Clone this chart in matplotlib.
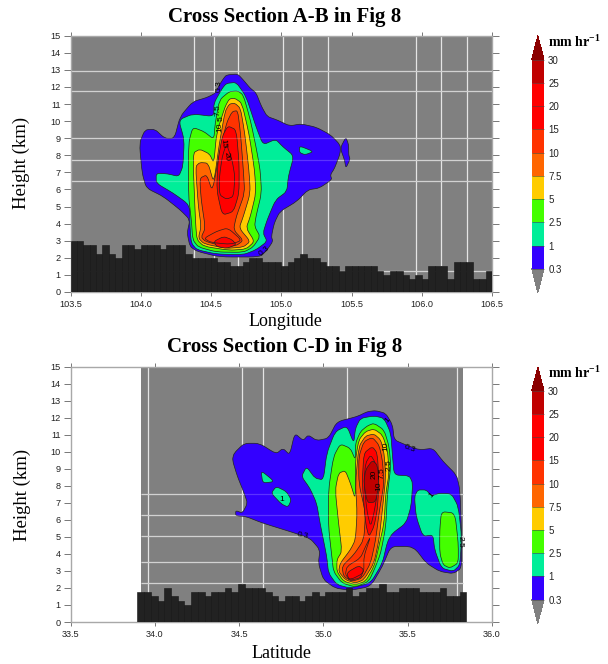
import numpy as np
import matplotlib
matplotlib.use('Agg')
import matplotlib.pyplot as plt
from matplotlib.colors import ListedColormap, BoundaryNorm
from matplotlib.cm import ScalarMappable
from matplotlib.path import Path
from matplotlib.patches import PathPatch

plt.rcParams['font.family'] = 'Liberation Sans'
plt.rcParams['mathtext.fontset'] = 'custom'
plt.rcParams['mathtext.bf'] = 'Liberation Serif:bold'
plt.rcParams['mathtext.rm'] = 'Liberation Serif:bold'

# colour levels
levels = [0.3, 1, 2.5, 5, 7.5, 10, 15, 20, 25, 30]
level_labels = ['0.3', '1', '2.5', '5', '7.5', '10', '15', '20', '25', '30']
level_colors = ['#3300FF', '#00EE99', '#44FF00', '#FFCC00', '#FF6600', '#FF3300', '#FF0000', '#FF0000', '#C00000']

# terrain heights (km)
ab_terrain = [3, 3, 2.75, 2.75, 2.25, 2.75, 2.25, 2, 2.75, 2.75, 2.5, 2.75, 2.75, 2.75, 2.5, 2.75, 2.75, 2.75,
              2.25, 2, 2, 2, 2, 1.75, 1.75, 1.5, 1.5, 1.75, 2, 2, 1.75, 1.75, 1.75, 1.5, 1.75, 2, 2.25, 2, 2,
              1.75, 1.5, 1.5, 1.25, 1.5, 1.5, 1.5, 1.5, 1.5, 1.25, 1, 1.25, 1.25, 1, 0.75, 1, 0.75, 1.5, 1.5,
              1.5, 0.75, 1.75, 1.75, 1.75, 0.75, 0.75, 1.25]
cd_terrain = [1.75, 1.75, 1.5, 1.25, 2, 1.5, 1.25, 1, 1.75, 1.75, 1.5, 1.75, 1.75, 2, 1.75, 2.25, 2, 2, 2,
              1.75, 1.5, 1.25, 1.5, 1.5, 1.25, 1.5, 1.75, 1.5, 1.75, 1.75, 1.75, 2, 1.5, 1.75, 2, 2, 2.25,
              1.75, 1.75, 2, 2, 2, 1.75, 1.75, 1.75, 2, 1.5, 1.5, 1.75]

# rain contours, cross section A-B: (lon, height)
ab_03 = [(104.61,12.70),(104.69,12.76),(104.73,12.41),(104.78,11.92),(104.82,11.67),(104.86,10.85),(104.90,10.27),
         (104.97,10.07),(105.06,9.72),(105.14,9.84),(105.25,9.64),(105.35,9.2),(105.42,8.61),(105.42,8.12),
         (105.38,7.25),(105.35,6.86),(105.36,6.57),(105.27,6.08),(105.19,5.98),(105.11,5.30),(104.99,4.71),
         (104.95,4.03),(104.93,3.25),(104.94,2.96),(104.90,2.47),(104.85,2.05),(104.56,2.05),(104.40,2.38),
         (104.35,2.67),(104.33,3.45),(104.35,4.23),(104.28,4.81),(104.16,5.59),(104.04,6.08),(104.01,6.95),
         (103.99,8.71),(104.03,9.49),(104.10,9.53),(104.17,9.0),(104.24,9.0),(104.28,10.27),(104.37,11.14),
         (104.47,11.38),(104.53,11.63),(104.56,12.12),(104.59,12.51)]
ab_03_b = [(105.46,9.06),(105.48,8.61),(105.48,8.03),(105.49,7.77),(105.46,7.25),(105.45,7.73),(105.42,8.42)]
ab_1 = [(104.68,12.27),(104.75,11.44),(104.82,9.68),(104.87,8.61),(104.96,8.94),(105.01,8.51),(105.09,7.97),
        (105.05,6.76),(105.04,5.88),(104.96,5.40),(104.90,4.23),(104.87,3.45),(104.90,2.96),(104.82,2.47),
        (104.73,2.18),(104.54,2.22),(104.40,2.47),(104.36,2.86),(104.35,3.84),(104.35,4.81),(104.33,5.2),
        (104.23,5.79),(104.11,6.37),(104.11,6.95),(104.19,6.92),(104.27,6.76),(104.30,7.34),(104.31,8.90),
        (104.27,10.07),(104.37,10.42),(104.52,10.27),(104.52,11.05),(104.58,11.92),(104.61,12.21)]
ab_1_b = [(105.13,8.55),(105.23,8.22),(105.17,8.03),(105.13,8.16)]
ab_25 = [(104.69,11.77),(104.73,11.53),(104.78,10.07),(104.82,8.51),(104.85,7.15),(104.86,5.79),(104.82,4.42),
         (104.81,3.84),(104.85,3.25),(104.80,2.63),(104.73,2.32),(104.54,2.34),(104.41,2.63),(104.37,3.06),
         (104.36,4.23),(104.34,5.59),(104.34,8.71),(104.37,9.64),(104.45,9.39),(104.52,8.94),(104.53,9.88),
         (104.56,11.24),(104.63,11.73)]
ab_5 = [(104.67,11.34),(104.72,11.05),(104.77,9.29),(104.81,7.15),(104.82,5.79),(104.78,4.42),(104.75,3.74),
        (104.81,2.96),(104.75,2.51),(104.63,2.44),(104.45,2.67),(104.40,3.06),(104.39,4.03),(104.37,8.12),
        (104.42,8.36),(104.49,8.08),(104.52,7.54),(104.54,9.29),(104.60,10.85),(104.63,11.30)]
ab_75 = [(104.67,11.05),(104.71,10.75),(104.74,9.29),(104.77,7.15),(104.78,5.79),(104.73,4.42),(104.70,3.74),
         (104.78,2.96),(104.73,2.63),(104.61,2.55),(104.45,2.82),(104.41,3.16),(104.43,3.84),(104.41,5.01),
         (104.39,7.34),(104.42,7.58),(104.48,7.54),(104.52,6.37),(104.56,8.71),(104.60,10.56),(104.63,11.0)]
ab_10 = [(104.69,10.62),(104.71,9.29),(104.73,7.15),(104.74,5.79),(104.68,4.42),(104.66,3.64),(104.73,3.02),
         (104.68,2.71),(104.59,2.67),(104.46,2.96),(104.43,3.21),(104.46,3.74),(104.43,5.40),(104.42,6.66),
         (104.47,6.86),(104.51,5.88),(104.56,8.12),(104.61,9.88),(104.65,10.56)]
ab_15 = [(104.62,9.72),(104.68,9.49),(104.70,7.54),(104.70,5.79),(104.66,4.70),(104.58,4.50),(104.54,5.98),
         (104.55,7.73),(104.58,9.10)]
ab_15_line = [(104.62,3.75),(104.72,3.02),(104.64,2.79),(104.50,2.90),(104.45,3.14),(104.54,3.55)]
ab_20 = [(104.61,8.67),(104.65,7.73),(104.67,6.76),(104.66,5.59),(104.61,5.43),(104.56,5.69),(104.56,6.76),(104.58,7.93)]
ab_20_b = [(104.59,3.25),(104.65,3.06),(104.68,2.77),(104.61,2.55),(104.54,2.67),(104.52,2.96)]

# rain contours, cross section C-D: (lat, height)
cd_03 = [(35.31,12.42),(35.37,12.26),(35.41,11.58),(35.42,10.70),(35.49,10.40),(35.57,10.11),(35.65,10.21),
         (35.71,9.43),(35.79,8.64),(35.81,7.76),(35.82,5.03),(35.82,3.17),(35.77,2.84),(35.69,2.97),(35.61,3.46),
         (35.55,4.24),(35.51,4.44),(35.40,4.44),(35.35,3.27),(35.28,2.09),(35.16,1.86),(35.07,1.99),(35.00,2.48),
         (34.97,3.46),(34.98,4.24),(34.92,4.93),(34.80,5.32),(34.64,5.81),(34.54,6.20),(34.48,6.24),(34.48,6.55),
         (34.52,6.40),(34.55,6.98),(34.53,7.57),(34.49,8.55),(34.46,9.52),(34.47,9.92),(34.53,10.50),(34.62,10.50),
         (34.72,9.88),(34.76,10.21),(34.80,9.82),(34.83,11.09),(34.88,10.66),(34.91,10.99),(34.96,10.66),
         (35.03,10.80),(35.08,11.77),(35.20,12.07),(35.26,12.36)]
cd_1 = [(35.30,12.11),(35.36,11.97),(35.40,11.09),(35.41,9.72),(35.42,8.64),(35.51,8.59),(35.53,8.16),(35.52,6.79),
        (35.49,5.81),(35.41,5.22),(35.38,4.73),(35.35,3.46),(35.28,2.29),(35.16,1.99),(35.08,2.19),(35.03,2.88),
        (35.02,3.85),(34.98,5.81),(34.96,6.98),(34.92,7.86),(34.87,8.55),(34.90,9.13),(34.95,8.45),(35.00,8.35),
        (35.02,9.92),(35.07,11.19),(35.14,11.52),(35.18,10.50),(35.19,11.38),(35.22,11.97)]
cd_1_b = [(35.56,7.76),(35.61,7.76),(35.64,7.41),(35.69,7.57),(35.76,7.53),(35.80,6.79),(35.82,5.03),(35.81,3.36),
          (35.77,2.97),(35.70,3.17),(35.66,4.24),(35.65,5.12),(35.59,5.03),(35.55,6.20),(35.54,7.37)]
cd_1_c = [(34.63,8.90),(34.71,8.25),(34.64,8.16)]
cd_1_d = [(34.72,7.96),(34.78,7.67),(34.81,7.18),(34.79,6.75),(34.75,6.94),(34.69,7.57)]
cd_25 = [(35.30,11.68),(35.36,11.28),(35.39,10.31),(35.40,9.13),(35.38,7.57),(35.37,5.61),(35.34,4.05),(35.31,3.27),
         (35.27,2.39),(35.19,2.05),(35.11,2.29),(35.06,2.97),(35.05,3.85),(35.03,5.61),(35.03,7.76),(35.06,9.72),
         (35.10,10.46),(35.16,10.21),(35.19,9.52),(35.19,10.50),(35.22,11.19),(35.26,11.52)]
cd_25_b = [(35.70,6.49),(35.78,6.40),(35.80,4.64),(35.80,3.46),(35.75,3.17),(35.71,3.36),(35.69,4.05),(35.69,5.42)]
cd_5 = [(35.30,11.34),(35.35,10.99),(35.38,10.11),(35.39,8.74),(35.37,7.57),(35.36,5.81),(35.32,4.05),(35.30,3.27),
        (35.25,2.39),(35.19,2.19),(35.12,2.39),(35.08,2.97),(35.08,3.66),(35.11,4.15),(35.09,5.81),(35.07,7.76),
        (35.09,8.74),(35.13,8.90),(35.16,8.16),(35.19,7.18),(35.19,9.52),(35.21,10.70),(35.25,11.19)]
cd_75 = [(35.30,11.05),(35.34,10.70),(35.36,9.92),(35.37,8.55),(35.35,6.59),(35.33,4.83),(35.30,3.46),(35.24,2.48),
         (35.19,2.29),(35.13,2.48),(35.09,2.97),(35.10,3.46),(35.16,4.24),(35.19,4.83),(35.20,6.40),(35.19,8.16),
         (35.21,10.31),(35.25,10.93)]
cd_10 = [(35.29,10.85),(35.33,10.40),(35.35,9.52),(35.36,8.16),(35.33,6.40),(35.31,4.83),(35.28,3.46),(35.23,2.58),
         (35.17,2.39),(35.12,2.68),(35.11,3.27),(35.18,3.95),(35.24,4.83),(35.25,6.40),(35.21,8.16),(35.21,9.72),(35.24,10.60)]
cd_15 = [(35.29,10.31),(35.32,9.92),(35.33,8.16),(35.32,6.59),(35.30,5.61),(35.27,5.00),(35.25,5.80),(35.23,8.16),(35.24,9.92)]
cd_15_line = [(35.28,5.03),(35.24,3.85),(35.24,2.88),(35.16,2.48),(35.13,2.78),(35.14,3.27),(35.22,3.76),(35.25,4.44)]
cd_20 = [(35.28,9.82),(35.31,9.33),(35.32,7.57),(35.30,6.40),(35.28,5.61),(35.26,6.40),(35.24,8.16),(35.25,9.33)]
cd_20_b = [(35.21,3.31),(35.24,3.07),(35.22,2.58),(35.15,2.44),(35.14,2.91)]
cd_25l = [(35.29,9.50),(35.32,9.23),(35.33,8.16),(35.31,7.05),(35.26,7.00),(35.24,8.16),(35.25,8.94)]

# white lines on the grey background
ab_vlines = [104.38, 104.52, 104.69, 105.01, 105.15, 105.33, 105.96, 106.14, 106.32]
ab_hlines = [12.95, 11.77, 9.0, 7.73, 6.49, 1.25]
cd_vlines = [33.96, 34.52, 34.64, 35.14, 35.79]
cd_hlines = [7.53, 6.28, 5.03, 3.52, 2.29]

# contour labels: text, x, height, rotation
ab_labels = [('0.3', 104.56, 12.07, 90), ('7.5', 104.55, 10.65, 90), ('5', 104.57, 10.15, 90),
             ('10', 104.56, 9.64, 90), ('15', 104.59, 8.70, -85), ('20', 104.61, 7.93, -85),
             ('0.3', 104.88, 2.38, 40)]
cd_labels = [('0.3', 35.51, 10.17, -20), ('0.3', 34.88, 5.07, -10), ('10', 35.37, 10.31, 90),
             ('2.5', 35.39, 9.23, 90), ('20', 35.30, 8.70, 90), ('7.5', 35.35, 8.75, 90),
             ('10', 35.33, 7.95, 90), ('2.5', 35.81, 4.69, -90), ('1', 34.75, 7.22, 0),
             ('1', 35.38, 11.85, 50), ('1', 35.64, 7.45, 50)]

W, H = 608.0, 664.0
cmap = ListedColormap(level_colors)
cmap.set_over('#8B0000')
cmap.set_under('#808080')
norm = BoundaryNorm(levels, cmap.N)


def box(left, top, right, bottom):
    return [left / W, 1 - bottom / H, (right - left) / W, (bottom - top) / H]


def round_path(pts, frac=0.3):
    # closed outline, only the corners get rounded so the shape stays on the read points
    pts = np.array(pts)
    prev = np.roll(pts, 1, axis=0)
    nxt = np.roll(pts, -1, axis=0)
    verts = []
    codes = []
    for i in range(len(pts)):
        a = pts[i] + frac * (prev[i] - pts[i])
        b = pts[i] + frac * (nxt[i] - pts[i])
        verts += [a, pts[i], b]
        codes += [Path.MOVETO if i == 0 else Path.LINETO, Path.CURVE3, Path.CURVE3]
    verts.append(verts[0])
    codes.append(Path.LINETO)
    return Path(verts, codes)


def draw_panel(ax, shapes, lines, terrain, bar_left, bar_right, xlim, xticks, vlines, hlines, labels, gx):
    ax.set_xlim(xlim)
    ax.set_ylim(0, 15)
    for v in vlines:
        ax.axvline(v, color='#E4E4E4', lw=0.9, zorder=1)
    ax.hlines(hlines, gx[0], gx[1], color='#C8C8C8', lw=0.9, zorder=1)
    for pts, level in shapes:
        ax.add_patch(PathPatch(round_path(pts), facecolor=cmap(norm(level)), edgecolor='#222222', lw=0.5, zorder=2))
    for pts in lines:
        ax.add_patch(PathPatch(round_path(pts), facecolor='none', edgecolor='#222222', lw=0.5, zorder=2))
    ax.hlines(hlines, gx[0], gx[1], color='white', lw=0.9, alpha=0.2, zorder=3)
    width = (bar_right - bar_left) / len(terrain)
    centers = bar_left + width * (np.arange(len(terrain)) + 0.5)
    ax.bar(centers, terrain, width=width, color='#222222', edgecolor='#151515', lw=0.4, zorder=4)
    for txt, x, y, rot in labels:
        ax.text(x, y, txt, rotation=rot, fontsize=6, color='black', ha='center', va='center',
                rotation_mode='anchor', zorder=5)
    ax.set_xticks(xticks)
    ax.set_xticklabels(['%.1f' % t for t in xticks])
    ax.set_yticks(range(0, 16))
    ax.tick_params(direction='out', length=3, width=0.7, color='#777777', labelsize=6.6, pad=2.5,
                   top=True, right=True, labelcolor='#222222')
    ax.tick_params(axis='y', length=5, pad=2)
    for s in ax.spines.values():
        s.set_color('#A8A8A8')
        s.set_linewidth(1.0)


def draw_bar(top, bottom):
    cax = fig.add_axes(box(531.7, top, 544, bottom))
    cb = fig.colorbar(ScalarMappable(norm=norm, cmap=cmap), cax=cax, extend='both', spacing='uniform',
                      extendfrac=0.114, ticks=levels, drawedges=True)
    cb.ax.set_yticklabels(level_labels)
    cb.ax.tick_params(length=0, labelsize=7, pad=3, labelcolor='#222222')
    cb.outline.set_linewidth(0)
    cb.dividers.set_color('#444444')
    cb.dividers.set_linewidth(0.4)


fig = plt.figure(figsize=(W / 100, H / 100), dpi=100)

# top panel
ax1 = fig.add_axes(box(70.5, 35.7, 492, 292))
ax1.set_facecolor('#808080')
ab_shapes = [(ab_03, 0.3), (ab_03_b, 0.3), (ab_1, 1), (ab_1_b, 1), (ab_25, 2.5), (ab_5, 5), (ab_75, 7.5),
             (ab_10, 10), (ab_15, 15), (ab_20, 20), (ab_20_b, 20)]
draw_panel(ax1, ab_shapes, [ab_15_line], ab_terrain, 103.5, 106.5, (103.5, 106.5), np.arange(103.5, 106.6, 0.5),
           ab_vlines, ab_hlines, ab_labels, (103.5, 106.5))

# bottom panel
ax2 = fig.add_axes(box(70.5, 366.7, 492, 622))
ax2.axvspan(33.917, 35.83, color='#808080', lw=0, zorder=0)
cd_shapes = [(cd_03, 0.3), (cd_1, 1), (cd_1_b, 1), (cd_1_c, 1), (cd_1_d, 1), (cd_25, 2.5), (cd_25_b, 2.5),
             (cd_5, 5), (cd_75, 7.5), (cd_10, 10), (cd_15, 15), (cd_20, 20), (cd_20_b, 20), (cd_25l, 25)]
draw_panel(ax2, cd_shapes, [cd_15_line], cd_terrain, 33.897, 35.848, (33.5, 36.0), np.arange(33.5, 36.1, 0.5),
           cd_vlines, cd_hlines, cd_labels, (33.917, 35.83))

draw_bar(35.7, 292.7)
draw_bar(367, 623.5)

# texts in figure pixels
serif = 'Liberation Serif'
fig.text(285 / W, 1 - 17 / H, 'Cross Section A-B in Fig 8', family=serif, weight='bold', fontsize=15,
         ha='center', va='center')
fig.text(285 / W, 1 - 347 / H, 'Cross Section C-D in Fig 8', family=serif, weight='bold', fontsize=15,
         ha='center', va='center')
fig.text(285 / W, 1 - 321 / H, 'Longitude', family=serif, fontsize=13, ha='center', va='center')
fig.text(282 / W, 1 - 653 / H, 'Latitude', family=serif, fontsize=13, ha='center', va='center')
fig.text(21 / W, 1 - 163 / H, 'Height (km)', family=serif, fontsize=13.5, rotation=90, ha='center', va='center')
fig.text(22 / W, 1 - 495 / H, 'Height (km)', family=serif, fontsize=13.5, rotation=90, ha='center', va='center')
for y in (42, 373):
    fig.text(548 / W, 1 - y / H, r'mm hr$^{\mathbf{-1}}$', family=serif, weight='bold', fontsize=10,
             ha='left', va='center')

plt.savefig('out.png', dpi=100)
